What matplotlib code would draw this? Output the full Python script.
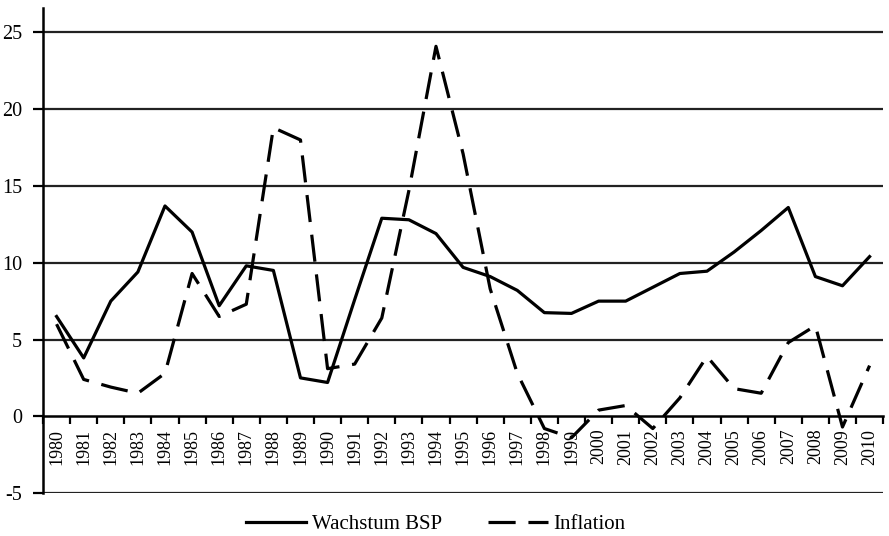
import matplotlib
matplotlib.use("Agg")
import matplotlib.pyplot as plt
import numpy as np

plt.rcParams["font.family"] = ["Liberation Serif", "DejaVu Serif"]

years = [str(y) for y in range(1980, 2011)]
wachstum_bsp = [6.5, 3.8, 7.5, 9.4, 13.7, 12.0, 7.2, 9.8, 9.5, 2.5, 2.2,
                7.6, 12.9, 12.8, 11.9, 9.7, 9.1, 8.2, 6.75, 6.7, 7.5,
                7.5, 8.4, 9.3, 9.45, 10.7, 12.1, 13.6, 9.1, 8.5, 10.4]
inflation = [6.0, 2.4, 1.9, 1.5, 2.8, 9.3, 6.5, 7.3, 18.8, 18.0, 3.1,
             3.4, 6.4, 14.7, 24.1, 17.1, 8.3, 2.8, -0.8, -1.4, 0.4,
             0.7, -0.8, 1.2, 3.9, 1.8, 1.5, 4.8, 5.9, -0.7, 3.3]
y_ticks = [-5, 0, 5, 10, 15, 20, 25]

fig = plt.figure(figsize=(8.89, 5.36), dpi=100)
ax = fig.add_axes([0.0484, 0.0802, 0.945, 0.905])

x = np.arange(len(years))

for v in y_ticks:
    if v != 0:
        ax.axhline(v, color="#222222", lw=1.6, zorder=1)

ax.plot(x, wachstum_bsp, color="black", lw=2.3, label="Wachstum BSP", zorder=3)
ax.plot(x, inflation, color="black", lw=2.3, dashes=(8.5, 4), label="Inflation", zorder=3)

ax.set_xlim(-0.5, len(years) - 0.5)
ax.set_ylim(-5, 26.6)

for s in ["top", "right"]:
    ax.spines[s].set_visible(False)
ax.spines["bottom"].set_position(("data", 0))
ax.spines["bottom"].set_linewidth(1.8)
ax.spines["left"].set_linewidth(1.8)

ax.set_xticks(x)
ax.set_xticklabels(years, rotation=90, fontsize=13)
ax.set_xticks(np.arange(-0.5, len(years)), minor=True)
ax.tick_params(axis="x", which="major", length=0, pad=9)
ax.tick_params(axis="x", which="minor", length=6, width=1.6, direction="out")

ax.set_yticks(y_ticks)
ax.set_yticklabels([str(v) for v in y_ticks], fontsize=14.5)
ax.tick_params(axis="y", length=7, width=1.6, pad=8)

fig.legend(loc="center", bbox_to_anchor=(0.49, 0.022), ncol=2, frameon=False,
           fontsize=15, handlelength=2.9, handletextpad=0.25, columnspacing=2.2)

fig.savefig("out.png", dpi=100, facecolor="white")
